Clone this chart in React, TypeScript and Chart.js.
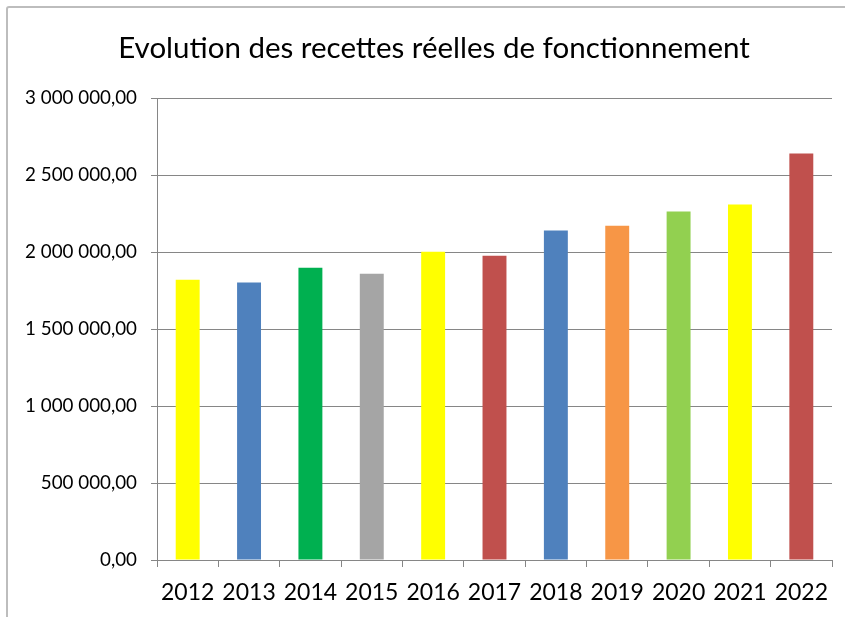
import React, { useEffect, useRef } from "react";
import { Chart, registerables } from "chart.js";

Chart.register(...registerables);

const TITLE = "Evolution des recettes réelles de fonctionnement";
const years = ["2012", "2013", "2014", "2015", "2016", "2017", "2018", "2019", "2020", "2021", "2022"];
const values = [1822000, 1803000, 1900000, 1861000, 2004000, 1978000, 2141000, 2173000, 2265000, 2310000, 2642000];
const barColors = ["#FFFF00", "#4F81BD", "#00B050", "#A5A5A5", "#FFFF00", "#C0504D", "#4F81BD", "#F79646", "#92D050", "#FFFF00", "#C0504D"];
const yMin = 0;
const yMax = 3000000;
const yStep = 500000;

function formatFr(v: number): string {
  const [intPart, dec] = v.toFixed(2).split(".");
  const withSpaces = intPart.replace(/\B(?=(\d{3})+(?!\d))/g, " ");
  return withSpaces + "," + dec;
}

const titlePlugin = {
  id: "shiftedTitle",
  afterDraw(chart: any) {
    const c = chart.ctx;
    c.save();
    c.font = "normal 29.5px Lato";
    c.fillStyle = "#000000";
    c.textAlign = "center";
    c.textBaseline = "middle";
    c.fillText(TITLE, 434, 48);
    c.restore();
  },
};

export default function App() {
  const canvasRef = useRef<HTMLCanvasElement | null>(null);

  useEffect(() => {
    document.body.style.margin = "0";
    const ctx = canvasRef.current;
    if (!ctx) return;
    const chart = new Chart(ctx, {
      type: "bar",
      data: {
        labels: years,
        datasets: [
          {
            data: values,
            backgroundColor: barColors,
            borderWidth: 0,
            barPercentage: 0.39,
            categoryPercentage: 1,
          },
        ],
      },
      plugins: [titlePlugin],
      options: {
        animation: false,
        responsive: false,
        maintainAspectRatio: false,
        layout: { padding: { left: 0, right: 13, top: 0, bottom: 0 } },
        plugins: {
          legend: { display: false },
          tooltip: { enabled: false },
          title: {
            display: true,
            text: TITLE,
            color: "rgba(0,0,0,0)",
            font: { family: "Lato", size: 29.5, weight: "normal", lineHeight: 1.2 },
            padding: { top: 30, bottom: 33 },
          },
        },
        scales: {
          x: {
            offset: true,
            grid: {
              display: true,
              offset: true,
              drawOnChartArea: false,
              drawTicks: true,
              tickLength: 7,
              color: "#868686",
            },
            border: { display: true, color: "#868686", width: 1 },
            ticks: {
              color: "#000000",
              font: { family: "Lato", size: 23 },
              padding: 12,
              maxRotation: 0,
              autoSkip: false,
            },
            afterFit: (scale: any) => {
              scale.height = 57;
            },
          },
          y: {
            min: yMin,
            max: yMax,
            grid: {
              color: "#868686",
              lineWidth: 1,
              drawTicks: true,
              tickLength: 6,
            },
            border: { display: true, color: "#868686", width: 1 },
            ticks: {
              stepSize: yStep,
              color: "#000000",
              font: { family: "Lato", size: 18.8 },
              padding: 14,
              callback: (v: any) => formatFr(Number(v)),
            },
            afterFit: (scale: any) => {
              scale.width = 157;
            },
          },
        },
      },
    });
    return () => chart.destroy();
  }, []);

  return (
    <div
      style={{
        position: "absolute",
        left: 0,
        top: 0,
        width: 845,
        height: 617,
        background: "#ffffff",
        overflow: "hidden",
      }}
    >
      <div
        style={{
          position: "absolute",
          left: 6,
          top: 6,
          width: 900,
          height: 700,
          border: "2px solid #bdbdbd",
          borderRadius: 3,
          boxSizing: "border-box",
        }}
      />
      <canvas
        ref={canvasRef}
        width={845}
        height={617}
        style={{ position: "absolute", left: 0, top: 0, width: 845, height: 617 }}
      />
    </div>
  );
}
